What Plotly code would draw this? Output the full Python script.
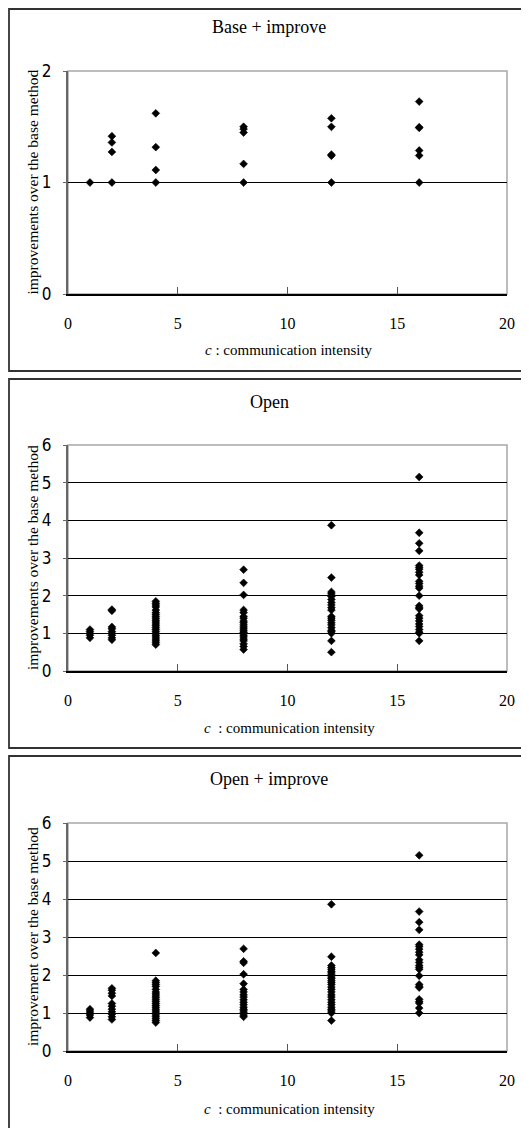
import plotly.graph_objects as go

# ---------------- data ----------------
c_values = [1, 2, 4, 8, 12, 16]
x_ticks = [0, 5, 10, 15, 20]

panel_titles = ["Base + improve", "Open", "Open + improve"]
y_titles = ["improvements over the base method",
            "improvements over the base method",
            "improvement over the base method"]
x_titles = ["<i>c</i> : communication intensity",
            "<i>c</i>  : communication intensity",
            "<i>c</i>  : communication intensity"]

base_improve = [
    [1.0],
    [1.415, 1.359, 1.274, 1.0],
    [1.62, 1.317, 1.112, 1.0],
    [1.50, 1.48, 1.448, 1.167, 1.0],
    [1.576, 1.499, 1.25, 1.24, 1.0],
    [1.726, 1.496, 1.49, 1.287, 1.242, 1.0],
]

open_only = [
    [1.10, 1.05, 1.0, 0.95, 0.88],
    [1.63, 1.60, 1.17, 1.12, 1.05, 1.0, 0.95, 0.88, 0.83],
    [1.85, 1.80, 1.75, 1.70, 1.62, 1.55, 1.50, 1.45, 1.40, 1.35, 1.30, 1.25,
     1.20, 1.15, 1.10, 1.05, 1.00, 0.95, 0.90, 0.85, 0.80, 0.75, 0.70],
    [2.69, 2.34, 2.02, 1.62, 1.55, 1.45, 1.40, 1.33, 1.28, 1.22, 1.17, 1.12,
     1.07, 1.03, 1.0, 0.95, 0.90, 0.85, 0.80, 0.72, 0.65, 0.57],
    [3.87, 2.48, 2.10, 2.05, 1.98, 1.90, 1.82, 1.75, 1.68, 1.62, 1.45, 1.40,
     1.35, 1.28, 1.22, 1.15, 1.08, 1.04, 1.0, 0.80, 0.50],
    [5.15, 3.67, 3.39, 3.19, 2.80, 2.75, 2.70, 2.62, 2.55, 2.38, 2.32, 2.25,
     2.20, 2.00, 1.73, 1.68, 1.65, 1.47, 1.40, 1.33, 1.25, 1.18, 1.10, 1.03,
     1.0, 0.80],
]

open_improve = [
    [1.10, 1.05, 1.0, 0.95, 0.88],
    [1.65, 1.60, 1.52, 1.45, 1.25, 1.18, 1.10, 1.03, 0.97, 0.90, 0.83],
    [2.58, 1.85, 1.80, 1.75, 1.70, 1.62, 1.55, 1.50, 1.45, 1.40, 1.35, 1.30,
     1.25, 1.20, 1.15, 1.10, 1.05, 1.00, 0.95, 0.90, 0.85, 0.80, 0.75],
    [2.69, 2.36, 2.32, 2.02, 1.77, 1.62, 1.55, 1.48, 1.42, 1.35, 1.28, 1.22,
     1.15, 1.10, 1.05, 1.0, 0.95, 0.90],
    [3.86, 2.48, 2.25, 2.20, 2.15, 2.10, 2.05, 2.00, 1.95, 1.90, 1.85, 1.80,
     1.75, 1.68, 1.62, 1.55, 1.48, 1.42, 1.35, 1.28, 1.22, 1.15, 1.10, 1.05,
     1.0, 0.80],
    [5.15, 3.67, 3.39, 3.19, 2.80, 2.75, 2.68, 2.60, 2.53, 2.40, 2.33, 2.25,
     2.20, 2.15, 1.98, 1.75, 1.70, 1.67, 1.36, 1.30, 1.26, 1.13, 1.0],
]

series = [base_improve, open_only, open_improve]
y_ranges = [[0, 2], [0, 6], [0, 6]]

# ---------------- layout geometry (screen pixels) ----------------
PAGE_OFF = 8                      # default page margin around the plot div
W, H = 529 - PAGE_OFF, 1128 - PAGE_OFF
plot_left, plot_right = 68, 507
plot_rows = [(71, 294), (445, 671), (823, 1051)]      # (top, bottom) of plot area
boxes = [(4, 371), (379, 748), (756, 1140)]           # outer frames
title_y = [27, 402, 779]
xtitle_y = [350, 728, 1109]

def px(x):
    return (x - PAGE_OFF) / W

def py(y):
    return 1 - (y - PAGE_OFF) / H

serif = "Liberation Serif, Times New Roman, serif"
narrow = "Liberation Sans Narrow, Arial Narrow, DejaVu Sans Condensed, sans-serif"

fig = go.Figure()
annotations = []
shapes = []

for i, data in enumerate(series):
    xs, ys = [], []
    for c, vals in zip(c_values, data):
        xs += [c] * len(vals)
        ys += vals
    xa = "x" if i == 0 else f"x{i+1}"
    ya = "y" if i == 0 else f"y{i+1}"
    fig.add_trace(go.Scatter(
        x=xs, y=ys, mode="markers", xaxis=xa, yaxis=ya, showlegend=False,
        cliponaxis=False,
        marker=dict(symbol="diamond", size=6, color="black",
                    line=dict(width=0.6, color="black")),
    ))
    top, bot = plot_rows[i]
    xkey = "xaxis" if i == 0 else f"xaxis{i+1}"
    ykey = "yaxis" if i == 0 else f"yaxis{i+1}"
    fig.layout[xkey] = dict(
        domain=[px(plot_left), px(plot_right)], anchor=ya, automargin=False,
        range=[0, 20], tickvals=x_ticks, showgrid=False, zeroline=False,
        showline=True, linecolor="black", linewidth=1.5,
        ticks="inside", ticklen=7, tickwidth=1, tickcolor="#555",
        ticklabelstandoff=14,
        tickfont=dict(family=serif, size=16, color="black"),
    )
    fig.layout[ykey] = dict(
        domain=[py(bot), py(top)], anchor=xa, automargin=False,
        range=y_ranges[i], dtick=1, showgrid=True, gridcolor="black",
        gridwidth=1, zeroline=False,
        showline=True, linecolor="#666", linewidth=2,
        ticks="outside", ticklen=3, tickwidth=1, tickcolor="#666",
        ticklabelstandoff=8,
        tickfont=dict(family=narrow, size=17, color="black"),
    )
    # gray frame of plot area (top/right)
    shapes.append(dict(type="rect", xref=f"{xa} domain", yref=f"{ya} domain",
                       x0=0, x1=1, y0=0, y1=1, layer="below",
                       line=dict(color="#a8a8a8", width=1.5)))
    # outer box
    b0, b1 = boxes[i]
    shapes.append(dict(type="rect", xref="paper", yref="paper",
                       x0=px(9), x1=px(523), y0=py(b1), y1=py(max(b0, 9)),
                       line=dict(color="#333", width=1.8)))
    annotations.append(dict(text=panel_titles[i], xref="paper", yref="paper",
                            x=px(269), y=py(title_y[i]), showarrow=False,
                            xanchor="center", yanchor="middle",
                            font=dict(family=serif, size=18, color="black")))
    annotations.append(dict(text=x_titles[i], xref="paper", yref="paper",
                            x=px(289), y=py(xtitle_y[i]), showarrow=False,
                            xanchor="center", yanchor="middle",
                            font=dict(family=serif, size=15, color="black")))
    annotations.append(dict(text=y_titles[i], xref="paper", yref="paper",
                            x=px(32), y=py((top + bot) / 2), showarrow=False,
                            textangle=-90, xanchor="center", yanchor="middle",
                            font=dict(family=serif, size=15.5, color="black")))

fig.update_layout(
    width=W, height=H, margin=dict(l=0, r=0, t=0, b=0, autoexpand=False),
    paper_bgcolor="white", plot_bgcolor="white",
    shapes=shapes, annotations=annotations,
)

fig.write_html("out.html")
